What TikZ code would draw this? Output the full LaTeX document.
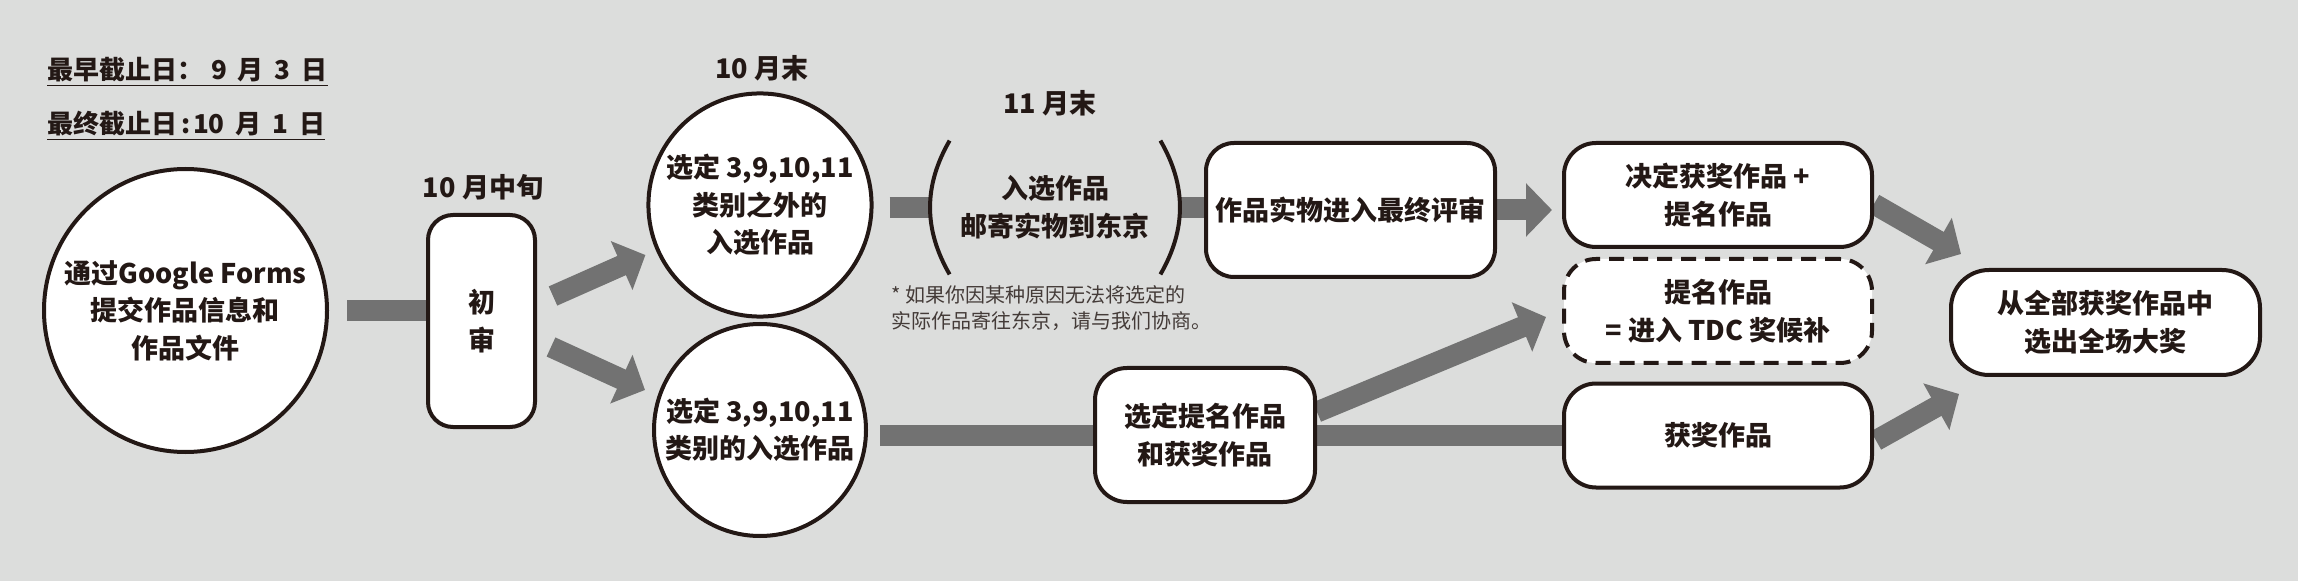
\documentclass[tikz,border=0pt]{standalone}
\usepackage{fontspec}
\setmainfont{Noto Sans CJK SC}
\usetikzlibrary{arrows.meta,calc}

\definecolor{bggray}{RGB}{220,221,220}
\definecolor{arrowgray}{RGB}{114,114,114}
\definecolor{inkblack}{RGB}{35,24,21}

\newcommand{\tgap}{\hspace{0.42em}}

\pgfdeclarelayer{bg}
\pgfdeclarelayer{conn}
\pgfsetlayers{bg,conn,main}

\begin{document}
\begin{tikzpicture}[
        x=0.5pt, y=-0.5pt,
        txt/.style={text=inkblack, font=\fontsize{13.5pt}{18.75pt}\selectfont\bfseries},
        base/.style={txt, draw=inkblack, line width=2pt, fill=white, align=center, inner sep=2pt},
        roundnode/.style={base, circle},
        stagebox/.style={base, rounded corners=14pt},
        deadline/.style={txt, font=\fontsize{13pt}{16pt}\selectfont\bfseries, anchor=base west, inner sep=0pt},
        bar/.style={draw=arrowgray, line width=10.5pt},
        fatarrow/.style={bar, -{Triangle[length=13pt,width=26pt]}},
    ]
    \useasboundingbox (0,0) rectangle (2298,588);
    \begin{pgfonlayer}{bg}
        \fill[bggray] (0,0) rectangle (2298,581);
        \fill[white] (0,581) rectangle (2298,588);
    \end{pgfonlayer}

    % deadlines
    \node[deadline] (early) at (47,80) {\underline{最早截止日：\hspace{0.3em}9\tgap 月\tgap 3\tgap 日}};
    \node[deadline] (final) at (47,134) {\underline{最终截止日\hspace{0.15em}:\hspace{0.1em}10\tgap 月\tgap 1\tgap 日}};

    % entry and screening
    \node[roundnode, minimum size=141.5pt] (entry) at (185.5,310.5) {通过Google Forms\\提交作品信息和\\作品文件};
    \node[stagebox, rounded corners=12.5pt, minimum width=53.5pt, minimum height=106pt] (screen) at (481.5,321) {初\\审};
    \node[txt] (midoct) at (483,187) {10 月中旬};

    % selected works
    \node[txt] (endoct) at (762,68) {10 月末};
    \node[roundnode, minimum size=106pt] (other) at (760,205) {选定 3,9,10,11\\类别之外的\\入选作品};
    \node[roundnode, minimum size=106pt] (listed) at (760,430) {选定 3,9,10,11\\类别的入选作品};

    % shipping
    \node[txt] (endnov) at (1050,103) {11 月末};
    \node[txt, align=center, minimum width=125pt, minimum height=66.5pt, inner sep=0pt] (mail) at (1055,207.5) {入选作品\\邮寄实物到东京};
    \draw[inkblack, line width=2pt] ([xshift=10pt]mail.north west) to[bend right=30] ([xshift=10pt]mail.south west);
    \draw[inkblack, line width=2pt] ([xshift=-10pt]mail.north east) to[bend left=30] ([xshift=-10pt]mail.south east);
    \node[anchor=north west, align=left, inner sep=0pt, text=inkblack!85, font=\fontsize{10pt}{13pt}\selectfont] (note) at (891,285) {* 如果你因某种原因无法将选定的\\实际作品寄往东京，请与我们协商。};

    % judging
    \node[stagebox, minimum width=144.5pt, minimum height=67pt] (review) at (1350.5,210) {作品实物进入最终评审};
    \node[stagebox, rounded corners=16pt, minimum width=110pt, minimum height=67pt] (pick) at (1205,435) {选定提名作品\\和获奖作品};

    % results
    \node[stagebox, rounded corners=16pt, minimum width=154pt, minimum height=52pt] (decide) at (1718,195) {决定获奖作品 +\\提名作品};
    \node[stagebox, rounded corners=16pt, minimum width=154pt, minimum height=52pt, dash pattern=on 7.5pt off 4.5pt] (nominee) at (1718,311) {提名作品\\= 进入 TDC 奖候补};
    \node[stagebox, rounded corners=16pt, minimum width=154pt, minimum height=52pt] (winner) at (1718,435.5) {获奖作品};
    \node[stagebox, rounded corners=19pt, minimum width=154.5pt, minimum height=52.5pt] (grand) at (2105.5,322.5) {从全部获奖作品中\\选出全场大奖};

    % connectors
    \begin{pgfonlayer}{conn}
        \draw[bar] ([xshift=9pt]entry.east) -- (entry.east -| screen.west);
        \draw[fatarrow] ($(screen.east)+(16,-25)$) -- ($(other.west)+(-1,50)$);
        \draw[fatarrow] ($(screen.east)+(14,26)$) -- ($(listed.west)+(-7,-40)$);
        \draw[bar] ([xshift=8pt]other.east |- mail) -- (mail.west);
        \draw[bar] (mail.east) -- (mail.east -| review.west);
        \draw[bar] ([xshift=6pt]listed.east |- pick) -- (pick.west);
        \draw[fatarrow] (review.east) -- ($(review.east -| decide.west)+(-10,0)$);
        \draw[fatarrow] ($(pick.east)+(0,-23)$) -- ($(nominee.west)+(-16,6)$);
        \draw[bar] (pick.east) -- (pick.east -| winner.west);
        \draw[fatarrow] ($(decide.east)+(0,9)$) -- ($(grand.north west)+(12,-14)$);
        \draw[fatarrow] ($(winner.east)+(2,5)$) -- ($(grand.south west)+(10,17)$);
    \end{pgfonlayer}
\end{tikzpicture}
\end{document}
